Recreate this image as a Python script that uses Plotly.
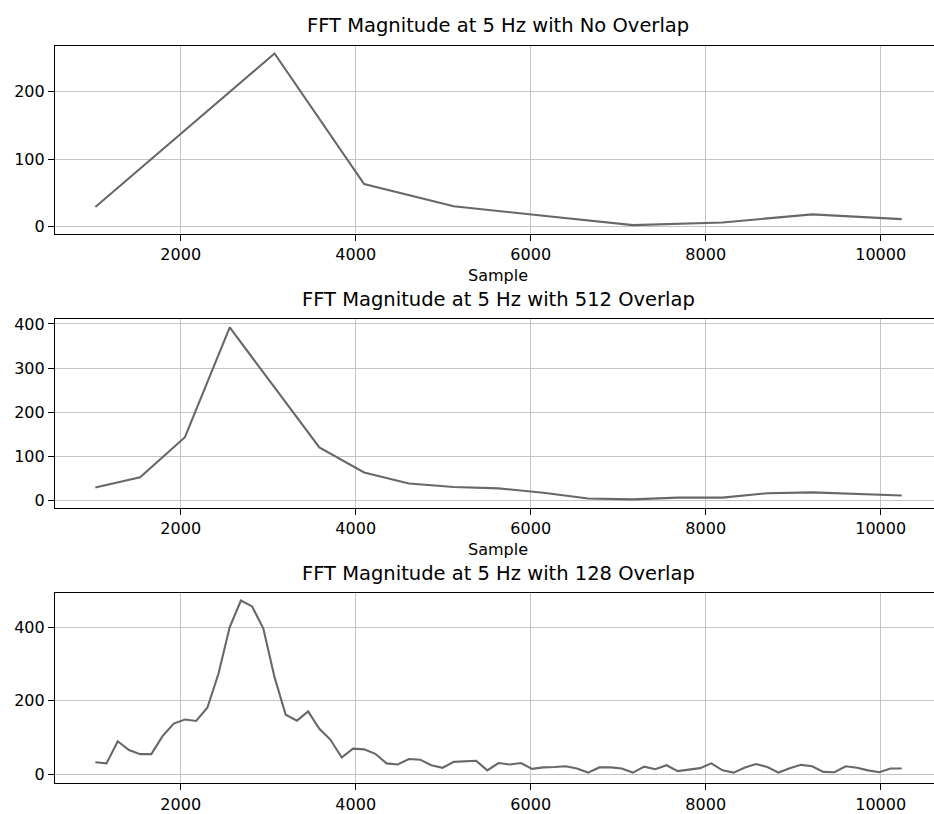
import plotly.graph_objects as go

# Window start samples and |FFT| at 5 Hz for three hop settings
samples_no_overlap = [1024, 2048, 3072, 4096, 5120, 6144, 7168, 8192, 9216, 10240]
mag_no_overlap = [29, 143, 257, 63, 30, 16, 2, 6, 18, 11]

samples_512 = [1024, 1536, 2048, 2560, 3072, 3584, 4096, 4608, 5120, 5632,
               6144, 6656, 7168, 7680, 8192, 8704, 9216, 9728, 10240]
mag_512 = [29, 52, 143, 392, 256, 120, 63, 38, 30, 27,
           17, 4, 2, 6, 6, 16, 18, 14, 11]

samples_128 = list(range(1024, 10241, 128))
mag_128 = [33, 30, 90, 66, 55, 55, 104, 138, 149, 145,
           181, 274, 400, 472, 456, 396, 264, 162, 146, 171,
           124, 94, 46, 70, 68, 56, 30, 27, 42, 40,
           25, 18, 34, 35, 37, 11, 31, 27, 31, 15,
           19, 20, 22, 16, 5, 19, 19, 16, 5, 21,
           14, 25, 9, 13, 17, 30, 11, 5, 19, 28,
           20, 5, 17, 26, 22, 7, 6, 22, 18, 11,
           6, 16, 16]

titles = ["FFT Magnitude at 5 Hz with No Overlap",
          "FFT Magnitude at 5 Hz with 512 Overlap",
          "FFT Magnitude at 5 Hz with 128 Overlap"]
x_ticks = [2000, 4000, 6000, 8000, 10000]
y_ticks = [[0, 100, 200], [0, 100, 200, 300, 400], [0, 200, 400]]
y_ranges = [[-10.7, 268.7], [-17.5, 411.5], [-24, 492]]
x_range = [563, 10609]

W, H = 934, 814
LEFT = 55
# (top, bottom) of each panel in pixels
panels = [(42, 232), (318, 509), (595, 787)]

FONT = "DejaVu Sans"
LINE_COLOR = "#686868"
GRID_COLOR = "#c4c4c4"

fig = go.Figure()
series = [(samples_no_overlap, mag_no_overlap),
          (samples_512, mag_512),
          (samples_128, mag_128)]

for i, (xs, ys) in enumerate(series):
    suffix = "" if i == 0 else str(i + 1)
    fig.add_trace(go.Scatter(
        x=xs, y=ys, mode="lines",
        line=dict(color=LINE_COLOR, width=2.1),
        xaxis="x" + suffix, yaxis="y" + suffix,
        showlegend=False, hoverinfo="skip",
    ))
    top, bottom = panels[i]
    ydom = [1 - bottom / H, 1 - top / H]
    fig.layout["xaxis" + suffix] = dict(
        domain=[LEFT / W, 1.0], anchor="y" + suffix, range=x_range,
        tickvals=x_ticks, ticktext=[str(t) for t in x_ticks],
        ticks="outside", ticklen=6, tickwidth=1, tickcolor="#000",
        showline=True, linecolor="#000", linewidth=1.2, mirror=True,
        showgrid=True, gridcolor=GRID_COLOR, gridwidth=1,
        zeroline=False, tickfont=dict(family=FONT, size=16, color="#000"),
    )
    fig.layout["yaxis" + suffix] = dict(
        domain=ydom, anchor="x" + suffix, range=y_ranges[i],
        tickvals=y_ticks[i], ticktext=[str(t) for t in y_ticks[i]],
        ticks="outside", ticklen=6, tickwidth=1, tickcolor="#000",
        showline=True, linecolor="#000", linewidth=1.2, mirror=False,
        showgrid=True, gridcolor=GRID_COLOR, gridwidth=1,
        zeroline=False, tickfont=dict(family=FONT, size=16, color="#000"),
    )
    fig.add_annotation(
        text=titles[i], xref="paper", yref="paper",
        x=498 / W, y=1 - (top - 20) / H, xanchor="center", yanchor="middle",
        showarrow=False, font=dict(family=FONT, size=19.5, color="#000"),
    )
    if i < 2:
        fig.add_annotation(
            text="Sample", xref="paper", yref="paper",
            x=498 / W, y=1 - (bottom + 42) / H, xanchor="center", yanchor="middle",
            showarrow=False, font=dict(family=FONT, size=16, color="#000"),
        )

fig.update_layout(
    width=W, height=H,
    margin=dict(l=0, r=0, t=0, b=0),
    paper_bgcolor="white", plot_bgcolor="white",
)

fig.write_html("out.html")
